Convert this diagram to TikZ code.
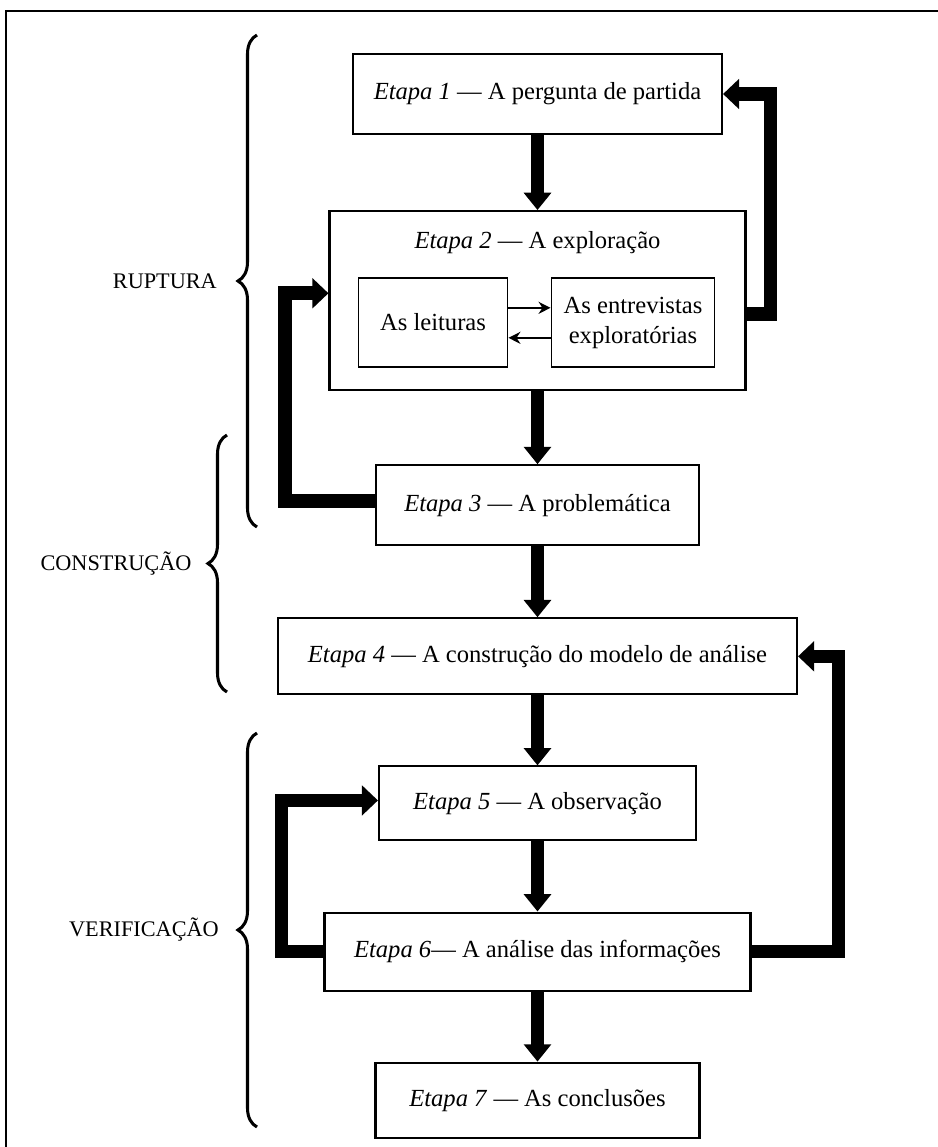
\documentclass[tikz,border=0pt]{standalone}
\usepackage{fontspec}
\setmainfont{Liberation Serif}
\usepackage{tikz}
\usetikzlibrary{arrows.meta, positioning, decorations.pathreplacing}

\begin{document}
\begin{tikzpicture}[>=Stealth, every node/.style={font=\fontsize{10.5}{12.8}\selectfont}]
  \tikzset{stepbox/.style={draw, line width=0.9pt, inner sep=0pt, align=center},
           inbox/.style={draw, line width=0.8pt, inner sep=0pt, align=center, minimum height=1.335cm},
           flow/.style={line width=5.2pt, -{Triangle[length=2.6mm,width=4mm]}},
           fb/.style={line width=5.8pt, line join=miter, -{Triangle[length=2.4mm,width=4.4mm]}},
           inarrow/.style={line width=0.8pt, -{Stealth[length=1.8mm,width=1.8mm]}},
           brc/.style={decorate, decoration={brace, amplitude=2.85mm}, line width=1.3pt},
           lab/.style={font=\fontsize{9.5}{11}\selectfont, inner sep=0pt}}
  \useasboundingbox (-8.0625,-15.795) rectangle (5.9925,1.41);
  % frame
  \draw[line width=0.8pt] (-7.9725,-16) -- (-7.9725,1.245) -- (6.2,1.245);
  % nodes
  \node[stepbox, minimum width=5.535cm, minimum height=1.2cm] (b1) {\textit{Etapa 1} --- A pergunta de partida};
  \node[stepbox, minimum width=6.24cm, minimum height=2.685cm, below=1.125cm of b1] (b2) {};
  \node (t2) at ([yshift=-4.95mm]b2.north) {\textit{Etapa 2} --- A exploração};
  \node[inbox, minimum width=2.235cm, below=1.005cm of b2.north, xshift=-1.5675cm] (lei) {As leituras};
  \node[inbox, minimum width=2.445cm, below=1.005cm of b2.north, xshift=1.4325cm] (ent) {As entrevistas\\exploratórias};
  \node[stepbox, minimum width=4.845cm, minimum height=1.2cm, below=1.095cm of b2] (b3) {\textit{Etapa 3} --- A problemática};
  \node[stepbox, minimum width=7.785cm, minimum height=1.14cm, below=1.065cm of b3] (b4) {\textit{Etapa 4} --- A construção do modelo de análise};
  \node[stepbox, minimum width=4.755cm, minimum height=1.11cm, below=1.05cm of b4] (b5) {\textit{Etapa 5} --- A observação};
  \node[stepbox, minimum width=6.39cm, minimum height=1.17cm, below=1.05cm of b5] (b6) {\textit{Etapa 6}--- A análise das informações};
  \node[stepbox, minimum width=4.86cm, minimum height=1.125cm, below=1.05cm of b6] (b7) {\textit{Etapa 7} --- As conclusões};
  % main sequence
  \draw[flow] (b1) -- (b2);
  \draw[flow] (b2) -- (b3);
  \draw[flow] (b3) -- (b4);
  \draw[flow] (b4) -- (b5);
  \draw[flow] (b5) -- (b6);
  \draw[flow] (b6) -- (b7);
  % inside etapa 2
  \draw[inarrow] ([yshift=2.2mm]lei.east) -- ([yshift=2.2mm]lei.east -| ent.west);
  \draw[inarrow] ([yshift=-2.3mm]ent.west) -- ([yshift=-2.3mm]ent.west -| lei.east);
  % feedback loops
  \draw[fb] ([yshift=-2mm]b2.east) -- ++(0.36,0) |- (b1.east);
  \draw[fb] ([yshift=0.6mm]b3.west) -- ++(-1.35,0) |- ([yshift=1.1mm]b2.west);
  \draw[fb] (b6.east) -- ++(1.305,0) |- (b4.east);
  \draw[fb] (b6.west) -- ++(-0.63,0) |- ([yshift=0.45mm]b5.west);
  % braces
  \coordinate (rupB) at (-4.2075,-6.495);
  \coordinate (rupT) at (-4.2075,0.885);
  \coordinate (conB) at (-4.6575,-8.97);
  \coordinate (conT) at (-4.6575,-5.115);
  \coordinate (verB) at (-4.2075,-15.495);
  \coordinate (verT) at (-4.2075,-9.585);
  \draw[brc] (rupB) -- (rupT) node[lab, midway, left=5.8mm] {RUPTURA};
  \draw[brc] (conB) -- (conT) node[lab, midway, left=5.1mm] {CONSTRUÇÃO};
  \draw[brc] (verB) -- (verT) node[lab, midway, left=5.5mm] {VERIFICAÇÃO};
\end{tikzpicture}
\end{document}
